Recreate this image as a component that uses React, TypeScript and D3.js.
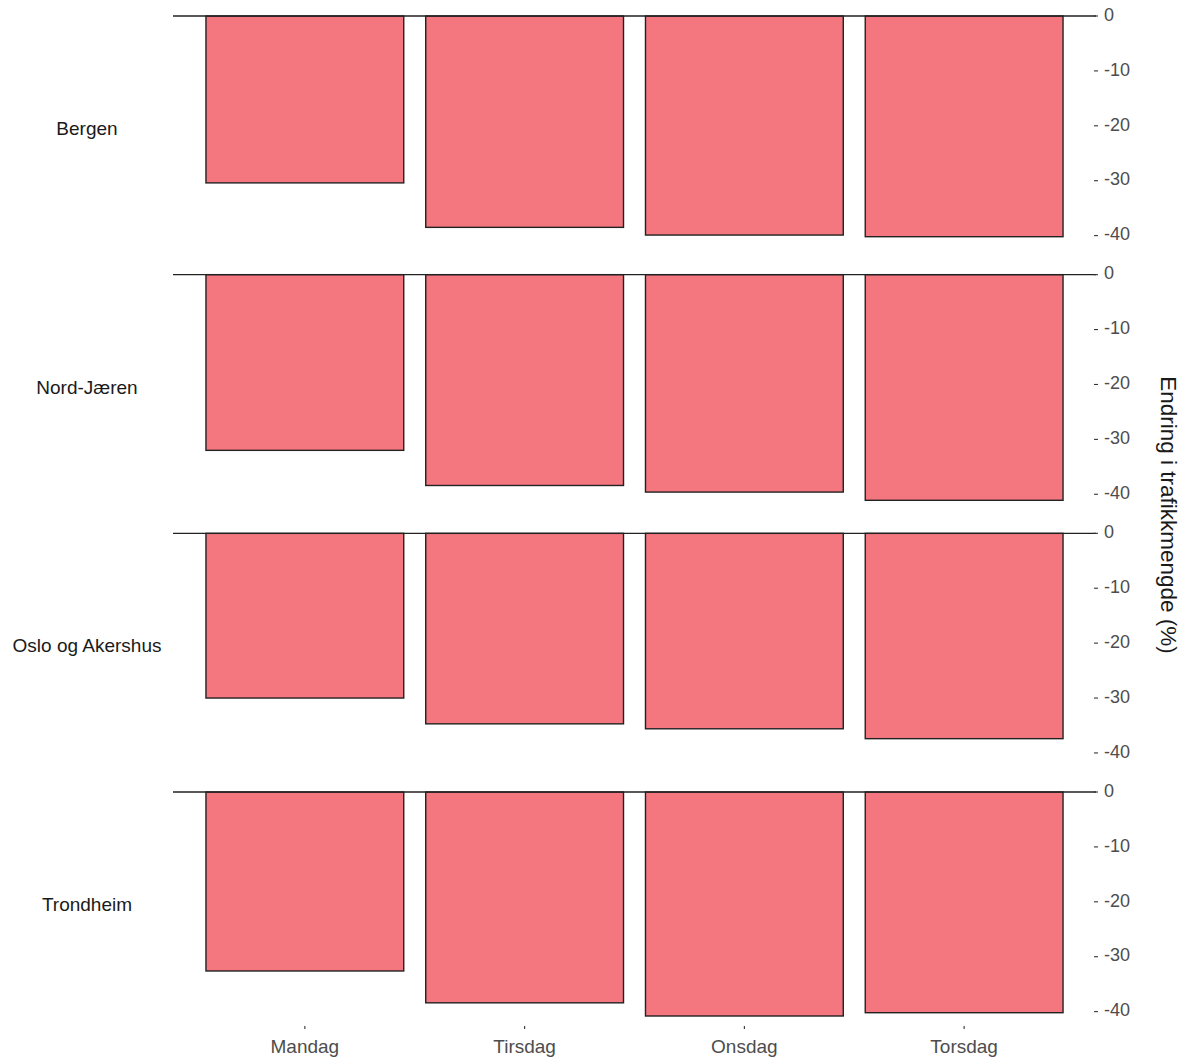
import React from "react";
import * as d3 from "d3";

const regions = ["Bergen", "Nord-Jæren", "Oslo og Akershus", "Trondheim"];
const days = ["Mandag", "Tirsdag", "Onsdag", "Torsdag"];
const bergen = [-30.4, -38.5, -39.9, -40.2];
const nordJaeren = [-32.0, -38.4, -39.6, -41.1];
const osloAkershus = [-30.0, -34.7, -35.6, -37.4];
const trondheim = [-32.6, -38.4, -40.8, -40.2];
const seriesValues = [bergen, nordJaeren, osloAkershus, trondheim];
const yTicks = [0, -10, -20, -30, -40];
const yTitle = "Endring i trafikkmengde (%)";

const W = 1190;
const H = 1061;
const panelLeft = 173;
const panelRight = 1096;
const firstTop = 16;
const panelStep = 258.67;
const pxPerTen = 54.9;

export default function App() {
  const step = (panelRight - panelLeft) / (days.length - 1 + 1.2);
  const x = d3
    .scaleBand<string>()
    .domain(days)
    .range([panelLeft + 0.6 * step - step / 2, panelRight - 0.6 * step + step / 2])
    .paddingInner(0.1)
    .paddingOuter(0.05);
  const fmt = (v: number) => (v === 0 ? "0" : "-" + Math.abs(v));
  return (
    <svg width={W} height={H} style={{ position: "absolute", left: 0, top: 0, background: "#fff" }}
      fontFamily="'Liberation Sans', Arial, sans-serif">
      {regions.map((r, i) => {
        const top = firstTop + i * panelStep;
        const y = d3.scaleLinear().domain([0, -40]).range([top, top + pxPerTen * 4]);
        const vals = seriesValues[i];
        return (
          <g key={r}>
            <text x={87} y={top + 114} textAnchor="middle" fontSize={19} fill="#1a1a1a" dominantBaseline="middle">
              {r}
            </text>
            {days.map((d, j) => (
              <rect
                key={d}
                x={x(d)}
                y={y(0)}
                width={x.bandwidth()}
                height={y(vals[j]) - y(0)}
                fill="#F4767F"
                stroke="#222"
                strokeWidth={1.4}
              />
            ))}
            <line x1={panelLeft} x2={panelRight} y1={y(0)} y2={y(0)} stroke="#222" strokeWidth={1.4} />
            {yTicks.map((t) => (
              <g key={t}>
                <line x1={panelRight - 2} x2={panelRight + 2} y1={y(t)} y2={y(t)} stroke="#333" strokeWidth={1.1} />
                <text x={panelRight + 8} y={y(t)} fontSize={18} fill="#4d4d4d" dominantBaseline="middle">
                  {fmt(t)}
                </text>
              </g>
            ))}
          </g>
        );
      })}
      {days.map((d) => {
        const cx = (x(d) as number) + x.bandwidth() / 2;
        return (
          <g key={d}>
            <line x1={cx} x2={cx} y1={1026} y2={1029} stroke="#333" strokeWidth={1.1} />
            <text x={cx} y={1053} textAnchor="middle" fontSize={19} fill="#4d4d4d">
              {d}
            </text>
          </g>
        );
      })}
      <text
        transform={`translate(1167, 515) rotate(90)`}
        textAnchor="middle"
        fontSize={22.5}
        fill="#1a1a1a"
        dominantBaseline="middle"
      >
        {yTitle}
      </text>
    </svg>
  );
}
